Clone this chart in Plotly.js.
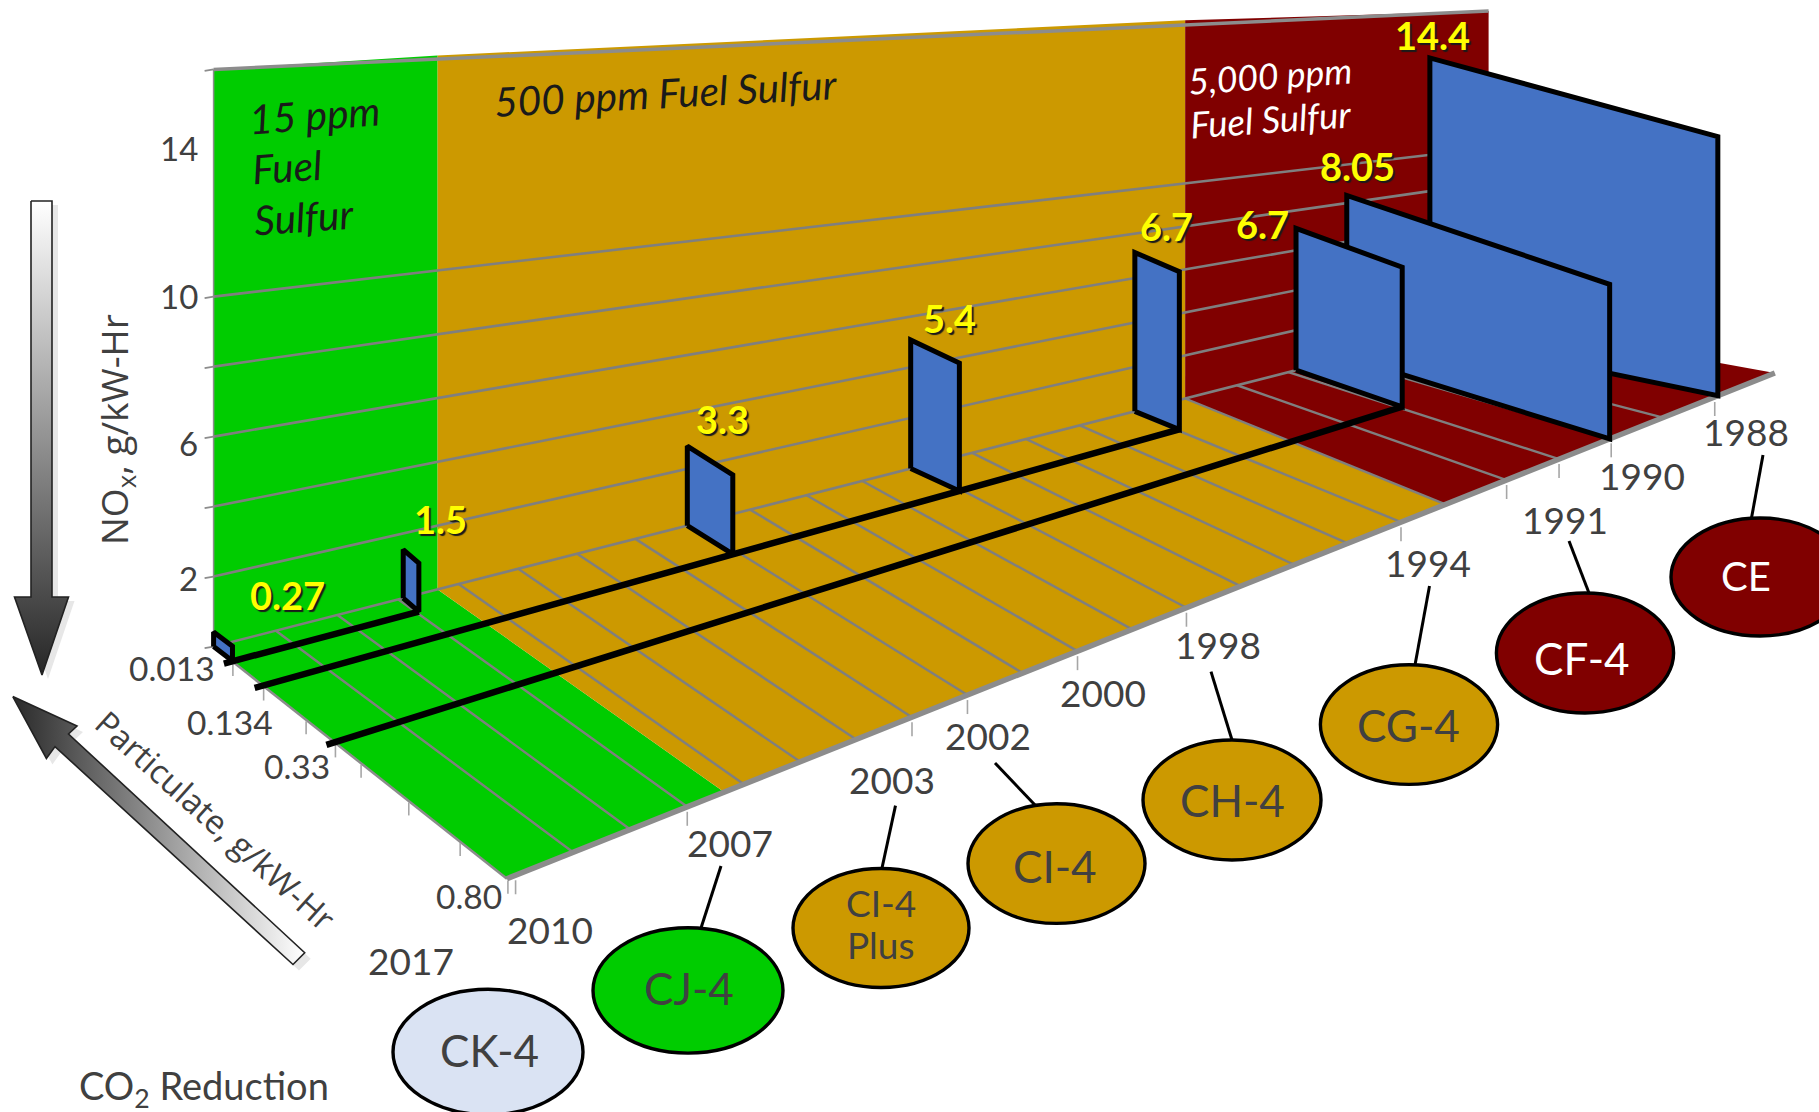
<!DOCTYPE html>
<html>
<head>
<meta charset="utf-8">
<script src="https://cdn.plot.ly/plotly-3.0.1.min.js"></script>
<style>html,body{margin:0;padding:0;background:#fff;overflow:hidden}#chart{width:1819px;height:1112px}</style>
</head>
<body>
<div id="chart"></div>
<script>
// ---------- data ----------
const engineBackPos  = [2010, 2006.92, 2002.1, 1998.125, 1993.96, 1990.85, 1989.85, 1988.19];
const engineFrontPos = [2010, 2006.96, 2002.11, 1998.06, 1993.97, 1990.96, 1990.03, 1987.94];
const noxLabels     = ['0.27', '1.5', '3.3', '5.4', '6.7', '6.7', '8.05', '14.4'];
const noxHeights    = [0.42, 1.5, 2.8, 5.08, 7.15, 7.1, 8.4, 15.35];
const pmPlotted     = [0.05, 0.05, 0.134, 0.134, 0.134, 0.33, 0.80, 0.80];
const pmLines       = [0.05, 0.134, 0.33];
const pmLineEndPos  = [2006.96, 1993.97, 1990.96];
const pmTickValues  = [0.05, 0.134, 0.25, 0.33, 0.40, 0.53, 0.67, 0.80];
const pmTickLabels  = ['0.013', '0.134', '0.33', '0.80'];
const noxGrid       = [2, 4, 6, 8, 10];
const noxTickLabels = ['14', '10', '6', '2'];
const yearGrid      = [1989,1990,1991,1992,1994,1995,1996,1997,1998,1999,2000,2001,2002,2003,2004,2005,2006,2007,2008,2009];
const yearTicks     = [1988,1990,1991,1992,1994,1998,2000,2002,2003,2007,2010];
const yearLabels    = ['1988','1990','1991','1994','1998','2000','2002','2003','2007','2010','2017'];
const sulfurBreaksBack  = [2010, 2006.35, 1993, 1987];
const sulfurBreaksFront = [2010.15, 2006.35, 1993.16, 1986.83];
const sulfurColors  = ['#00CC00', '#CC9900', '#800000'];
const sulfurTexts   = ['15 ppm','Fuel','Sulfur','500 ppm Fuel Sulfur','5,000 ppm','Fuel Sulfur'];
const badgeNames    = ['CK-4','CJ-4','CI-4','Plus','CI-4','CH-4','CG-4','CF-4','CE'];
const badgeTextColors = ['#404040','#404040','#404040','#404040','#404040','#404040','#404040','#FFFFFF','#FFFFFF'];
const ovalColors    = ['#DAE3F3','#00CC00','#CC9900','#CC9900','#CC9900','#CC9900','#800000','#800000'];

// ---------- projection from (year, PM, NOx) to the picture ----------
const FL=[506.7,878.8], BL=[213.6,646.6], BR=[1488.6,321], FR=[1775,373];
function warp(year, depth){
  const X=(2010-year)/23, k=0.13-0.07*depth;
  return X*(1+k)/(1+k*X) + 0.007*(1-2*X)*depth;
}
function project(year, pm, nox){
  const Y=pm/0.8, Xp=warp(year,Y);
  const lx=BL[0]+(FL[0]-BL[0])*Y, ly=BL[1]+(FL[1]-BL[1])*Y;
  const rx=BR[0]+(FR[0]-BR[0])*Y, ry=BR[1]+(FR[1]-BR[1])*Y;
  const H=(35-17.7*Xp)*(1-0.07*Y*Xp);
  return [lx+(rx-lx)*Xp, ly+(ry-ly)*Xp-H*nox];
}
const wallTop = year => 16.49+1.43*warp(year,0);
const leftEdge = pm => project(2010+0.15*pm/0.8,pm,0);

const traces=[];
function poly(pts, fill, lineColor, lineW){
  const xs=pts.map(p=>p[0]), ys=pts.map(p=>p[1]);
  xs.push(xs[0]); ys.push(ys[0]);
  traces.push({type:'scatter',mode:'lines',x:xs,y:ys,fill:'toself',fillcolor:fill,
    line:{color:lineColor||fill,width:lineW===undefined?0:lineW,shape:'linear'},hoverinfo:'skip',showlegend:false});
}
function line(pts,color,w){
  traces.push({type:'scatter',mode:'lines',x:pts.map(p=>p[0]),y:pts.map(p=>p[1]),
    line:{color:color,width:w},hoverinfo:'skip',showlegend:false});
}

// back wall and floor, split by fuel sulfur
sulfurColors.forEach((c,i)=>{
  const a=sulfurBreaksBack[i], b=sulfurBreaksBack[i+1];
  const af=sulfurBreaksFront[i], bf=sulfurBreaksFront[i+1];
  poly([project(a,0,0),project(a,0,wallTop(a)),project(b,0,wallTop(b)),project(b,0,0)],c);
  poly([project(a,0,0),project(b,0,0),project(bf,0.8,0),project(af,0.8,0)],c);
});
// floor grid
yearGrid.forEach(y=>line([project(y,0,0),project(y,0.8,0)],'#7F7F7F',2.4));
line([project(sulfurBreaksBack[2],0,0),project(sulfurBreaksFront[2],0.8,0)],'#7F7F7F',2.4);
// wall grid
noxGrid.forEach(n=>line([project(2010,0,n),project(1987,0,n)],'#7F7F7F',2.6));
line([project(2010,0,0),project(1987,0,0)],'#7F7F7F',2.6);
line([project(2010,0,wallTop(2010)),project(1987,0,wallTop(1987))],'#8C8C8C',3.5);
line([project(2010,0,0),project(2010,0,wallTop(2010))],'#8C8C8C',1.5);
// wall tick stubs
[0,2,4,6,8,10,wallTop(2010)].forEach(n=>{
  const p=project(2010,0,n); line([[p[0]-9,p[1]+1.5],p],'#8C8C8C',1.8);
});
// floor edges
line([project(2010,0,0),project(2010.15,0.8,0)],'#8C8C8C',2.5);
line([project(2010.15,0.8,0),project(1986.83,0.8,0)],'#8C8C8C',5.5);
// tick stubs under the floor edges
pmTickValues.forEach(v=>{
  const p=leftEdge(v); line([[p[0]+1,p[1]+2],[p[0]+1,p[1]+15]],'#A6A6A6',1.6);
});
yearTicks.forEach(y=>{
  const p=project(y,0.8,0); line([[p[0],p[1]+5],[p[0],p[1]+19]],'#A6A6A6',1.6);
});

// emission slabs, far ones first
engineBackPos.map((y,i)=>i).reverse().forEach(i=>{
  const b=engineBackPos[i], f=engineFrontPos[i], pm=pmPlotted[i], n=noxHeights[i];
  poly([project(b,0,0),project(f,pm,0),project(f,pm,n),project(b,0,n)],'#4472C4','#000',5);
});
// particulate limit lines
pmLines.forEach((pm,i)=>{
  const e=leftEdge(pm);
  line([[e[0]-8,e[1]+2.4],project(pmLineEndPos[i],pm,0)],'#000',6.5);
});

// gradient arrows with soft grey shadows
const vArrow=[[31,201],[52,201],[52,597],[68.5,597],[42,675],[14.5,597],[31,597]];
const dArrow=[[12.8,696.6],[77,726],[68.5,734],[304.7,952.7],[293,964.5],[55,746.6],[46.4,758.4]];
poly(vArrow.map(p=>[p[0]+6,p[1]+4]),'#E7E7E7');
poly(dArrow.map(p=>[p[0]+6,p[1]+6]),'#E7E7E7');
function gradArrow(pts,type,scale,start,stop){
  const xs=pts.map(p=>p[0]),ys=pts.map(p=>p[1]); xs.push(xs[0]); ys.push(ys[0]);
  traces.push({type:'scatter',mode:'lines',x:xs,y:ys,fill:'toself',line:{color:'#222',width:1.6},
    fillgradient:{type:type,colorscale:scale,start:start,stop:stop},hoverinfo:'skip',showlegend:false});
}
gradArrow(vArrow,'vertical',[[0,'#FFFFFF'],[1,'#262626']],201,675);
gradArrow(dArrow,'horizontal',[[0,'#2A2A2A'],[1,'#FFFFFF']],12.8,304.7);

// ---------- text ----------
const anns=[];
const TXT='#404040';
function label(x,y,text,size,color,extra){
  anns.push(Object.assign({xref:'x',yref:'y',x:x,y:y,text:text,showarrow:false,xanchor:'center',yanchor:'middle',
    font:{family:'Lato, sans-serif',size:size,color:color}},extra||{}));
}
// year labels
const yearLabelX=[1746,1642,1565,1428,1217.6,1103,988,892,729.5,549.6,411];
const yearLabelY=[431,475,519,562,644.6,692,735,779,842,929.6,960];
yearLabels.forEach((t,i)=>label(yearLabelX[i],yearLabelY[i],t,37,TXT));
// PM labels
const pmLabelX=[172.4,230.4,297,469], pmLabelY=[668,721.6,766,895.6];
pmTickLabels.forEach((t,i)=>label(pmLabelX[i],pmLabelY[i],t,33.5,TXT));
// NOx labels
const noxLabelY=[148,296,443,578];
noxTickLabels.forEach((t,i)=>label(200,noxLabelY[i],t,33,TXT,{xanchor:'right'}));
// yellow values
const valueX=[287,440,722.6,949.5,1166,1262,1357,1432], valueY=[594.6,519,419,318,226,224,166,35];
noxLabels.forEach((t,i)=>{
  label(valueX[i],valueY[i],'<b>'+t+'</b>',38,'#FFFF00');
  anns[anns.length-1].font.shadow='2px 2px 1px #1a1a1a';
});
// sulfur zones
const sx=[314,287,304,666,1270,1270.5], sy=[114,166,216,92,75,119], srot=[-4,-4,-4,-3,-4,-4];
const scol=['#1A1A1A','#1A1A1A','#1A1A1A','#1A1A1A','#FFFFFF','#FFFFFF'], ssz=[40.5,40.5,40.5,40.5,35.5,36.5];
sulfurTexts.forEach((t,i)=>label(sx[i],sy[i],'<i>'+t+'</i>',ssz[i],scol[i],{textangle:srot[i]}));
// axis titles
label(116,430,'NO<sub>x</sub>, g/kW-Hr',37,TXT,{textangle:-90});
anns[anns.length-1].font.family='Open Sans, sans-serif';
label(216,820,'Particulate, g/kW-Hr',33,TXT,{textangle:42});
anns[anns.length-1].font.family='Open Sans, sans-serif';
label(76.5,1088,'CO<sub>2</sub> Reduction',38,TXT,{xanchor:'left'});

// oil-category badges and leaders
const ovalCx=[488,688,881,1056.5,1232,1409,1585,1760];
const ovalCy=[1052,990.4,928,863.6,800,724.6,653,577];
const ovalRx=[95,95,88,88.5,89,88.6,88.6,89];
const ovalRy=[62.7,62.7,59.5,59.8,60,59.8,60,59];
const badgeTx=[489,689,881,881,1054.5,1232,1408,1582,1746];
const badgeTy=[1050,988.4,902.5,944,866,800,724.6,658,576];
const badgeSz=[44,44,37,37,44,44,44,44,40];
const shapes=[];
const leaders=[[[1763,455],[1751.5,518]],[[1569,541],[1589,593]],[[1429.5,586],[1415,665]],[[1211,671.6],[1232,740]],
  [[995,763],[1035,805]],[[895.5,805.6],[882,868]],[[721,866],[701,928]]];
leaders.forEach(l=>line(l,'#000',3));
ovalCx.forEach((cx,i)=>{
  shapes.push({type:'circle',xref:'x',yref:'y',x0:cx-ovalRx[i],x1:cx+ovalRx[i],
    y0:ovalCy[i]-ovalRy[i],y1:ovalCy[i]+ovalRy[i],fillcolor:ovalColors[i],line:{color:'#000',width:3.4},layer:'above'});
});
badgeNames.forEach((t,i)=>label(badgeTx[i],badgeTy[i],t,badgeSz[i],badgeTextColors[i]));

Plotly.newPlot('chart',traces,{
  width:1819,height:1112,margin:{l:0,r:0,t:0,b:0},paper_bgcolor:'#fff',plot_bgcolor:'#fff',showlegend:false,
  hovermode:false,
  xaxis:{range:[0,1819],visible:false,fixedrange:true},
  yaxis:{range:[1112,0],visible:false,fixedrange:true},
  shapes:shapes,annotations:anns
},{displayModeBar:false,staticPlot:true});
</script>
</body>
</html>
